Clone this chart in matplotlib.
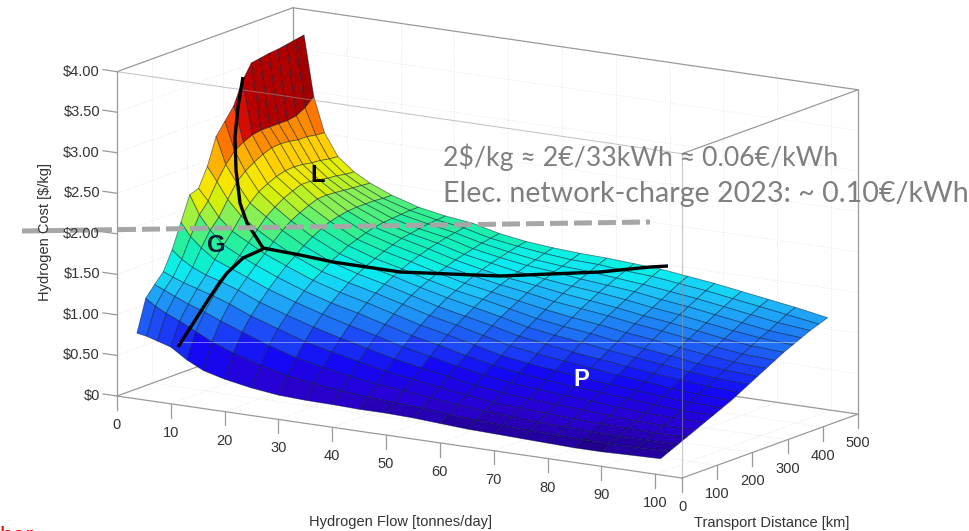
"""Hydrogen delivery cost surface (flow vs distance) with slide annotations on top."""

import matplotlib
matplotlib.use("Agg")
import matplotlib.pyplot as plt
import numpy as np
from matplotlib.colors import LinearSegmentedColormap, Normalize
from mpl_toolkits.mplot3d import proj3d

FLOW = [3.7, 5.5, 7.5, 10, 13, 16, 20, 25, 30, 35, 40, 45, 50, 55, 60, 65, 70, 75, 80, 85, 90, 95, 101]
DIST = [0, 25, 50, 75, 100, 125, 150, 175, 200, 225, 250, 275, 300, 325, 350, 375, 400, 425, 450, 475]

# one row per flow, one value per distance, $/kg
COST = [
    [.81, 1.20, 1.33, 1.45, 1.68, 1.98, 2.28, 2.32, 2.55, 2.88, 3.03, 3.18, 3.45, 3.63, 3.65, 3.67, 3.68, 3.70, 3.72, 3.74],
    [.79, 1.12, 1.28, 1.40, 1.58, 1.82, 2.05, 2.18, 2.38, 2.55, 2.68, 2.75, 2.80, 2.82, 2.82, 2.82, 2.82, 2.84, 2.90, 3.00],
    [.75, 1.05, 1.22, 1.35, 1.50, 1.70, 1.88, 2.00, 2.18, 2.35, 2.45, 2.52, 2.58, 2.62, 2.63, 2.62, 2.60, 2.60, 2.58, 2.57],
    [.70, .98, 1.15, 1.30, 1.43, 1.58, 1.72, 1.85, 2.00, 2.12, 2.22, 2.28, 2.33, 2.36, 2.37, 2.36, 2.34, 2.33, 2.31, 2.30],
    [.57, .88, 1.08, 1.24, 1.37, 1.50, 1.62, 1.74, 1.86, 1.98, 2.06, 2.13, 2.18, 2.22, 2.22, 2.20, 2.18, 2.17, 2.15, 2.14],
    [.47, .78, 1.00, 1.17, 1.30, 1.42, 1.53, 1.63, 1.74, 1.84, 1.92, 1.98, 2.03, 2.07, 2.08, 2.07, 2.06, 2.05, 2.04, 2.03],
    [.40, .68, .90, 1.06, 1.19, 1.31, 1.42, 1.52, 1.60, 1.69, 1.76, 1.82, 1.87, 1.90, 1.92, 1.93, 1.93, 1.93, 1.92, 1.92],
    [.34, .58, .78, .95, 1.08, 1.20, 1.30, 1.39, 1.46, 1.54, 1.60, 1.66, 1.70, 1.74, 1.77, 1.79, 1.80, 1.81, 1.82, 1.82],
    [.30, .50, .68, .84, .98, 1.10, 1.20, 1.29, 1.37, 1.44, 1.50, 1.55, 1.60, 1.64, 1.68, 1.70, 1.72, 1.74, 1.75, 1.76],
    [.285, .45, .61, .76, .89, 1.01, 1.12, 1.21, 1.29, 1.36, 1.42, 1.47, 1.52, 1.56, 1.60, 1.63, 1.66, 1.68, 1.70, 1.72],
    [.28, .41, .55, .69, .81, .93, 1.03, 1.12, 1.20, 1.27, 1.33, 1.38, 1.43, 1.47, 1.51, 1.54, 1.57, 1.60, 1.62, 1.64],
    [.27, .38, .50, .62, .73, .84, .94, 1.03, 1.11, 1.18, 1.25, 1.30, 1.35, 1.40, 1.44, 1.48, 1.51, 1.54, 1.57, 1.59],
    [.27, .36, .47, .57, .67, .77, .87, .96, 1.04, 1.11, 1.18, 1.24, 1.29, 1.34, 1.38, 1.42, 1.46, 1.49, 1.53, 1.56],
    [.26, .34, .43, .52, .61, .70, .79, .88, .96, 1.04, 1.11, 1.17, 1.23, 1.29, 1.34, 1.38, 1.43, 1.46, 1.50, 1.54],
    [.24, .31, .39, .47, .55, .64, .72, .80, .88, .96, 1.03, 1.10, 1.17, 1.23, 1.29, 1.34, 1.39, 1.44, 1.49, 1.53],
    [.22, .29, .36, .43, .51, .59, .67, .75, .83, .91, .98, 1.05, 1.12, 1.19, 1.25, 1.31, 1.36, 1.41, 1.46, 1.51],
    [.21, .27, .34, .41, .48, .56, .63, .71, .79, .86, .94, 1.01, 1.08, 1.15, 1.21, 1.27, 1.33, 1.38, 1.44, 1.49],
    [.20, .26, .32, .39, .46, .53, .60, .67, .75, .82, .89, .96, 1.03, 1.10, 1.16, 1.22, 1.28, 1.34, 1.40, 1.45],
    [.19, .25, .31, .37, .44, .51, .58, .64, .71, .78, .85, .92, .99, 1.06, 1.12, 1.18, 1.24, 1.30, 1.36, 1.41],
    [.18, .24, .30, .36, .42, .48, .55, .61, .68, .74, .81, .88, .94, 1.01, 1.07, 1.13, 1.19, 1.25, 1.31, 1.36],
    [.18, .24, .29, .35, .40, .46, .52, .58, .64, .71, .77, .83, .90, .96, 1.02, 1.08, 1.14, 1.20, 1.26, 1.31],
    [.19, .24, .29, .34, .39, .45, .50, .56, .62, .68, .74, .80, .86, .92, .98, 1.04, 1.09, 1.15, 1.21, 1.26],
    [.20, .25, .30, .35, .40, .45, .50, .55, .60, .66, .72, .78, .84, .90, .96, 1.01, 1.06, 1.11, 1.15, 1.19],
]

FLOW_TICKS = [0, 10, 20, 30, 40, 50, 60, 70, 80, 90, 100]
DIST_TICKS = [0, 100, 200, 300, 400, 500]
COST_TICKS = [0, 0.5, 1, 1.5, 2, 2.5, 3, 3.5, 4]
COST_LABELS = ["$0", "$0.50", "$1.00", "$1.50", "$2.00", "$2.50", "$3.00", "$3.50", "$4.00"]

# hand-drawn slide annotations, in picture pixels
LINE_LG = ([243, 238, 235, 236, 240, 247, 263], [77, 107, 137, 170, 203, 223, 248])
LINE_LP = ([263, 300, 333, 400, 500, 600, 650, 668], [248, 255, 262, 272, 276, 272, 267, 266])
LINE_GP = ([263, 243, 227, 220, 208, 178], [249, 258, 273, 282, 300, 347])
DASH_X = [22, 650]
DASH_Y = [231, 222]

STOPS = [
    (.15, "#22008c"), (.35, "#2a00d0"), (.65, "#1408f5"), (.9, "#1e50f5"), (1.1, "#1e8cf5"),
    (1.3, "#1ec0f8"), (1.45, "#0aeef0"), (1.6, "#10f0c0"), (1.8, "#30f090"), (2.0, "#90f050"),
    (2.2, "#e0f000"), (2.4, "#ffe000"), (2.6, "#ffb000"), (2.8, "#ff7000"), (3.0, "#f01808"),
    (3.15, "#c00000"), (3.4, "#a00000"), (4.0, "#8c0000"),
]
ZMIN, ZMAX = 0.15, 4.0
XMAX, YMAX = 105, 500
W, H = 970, 531
AXC = "#999999"
TXT = "#333333"
SANS = "Liberation Sans"


def to_px(ax, x, y, z):
    xs, ys, _ = proj3d.proj_transform(x, y, z, ax.get_proj())
    return ax.transData.transform((xs, ys))


def fit_box(fig, ax, box):
    # move and scale the 3d box so two floor corners land where they are in the picture
    target0 = np.array([117, H - 396])
    target1 = np.array([858, H - 414])
    fig.canvas.draw()
    p0, p1 = to_px(ax, 0, 0, 0), to_px(ax, XMAX, YMAX, 0)
    ax.set_box_aspect(box, zoom=np.linalg.norm(target1 - target0) / np.linalg.norm(p1 - p0))
    fig.canvas.draw()
    p0 = to_px(ax, 0, 0, 0)
    shift = target0 - p0
    pos = ax.get_position()
    ax.set_position([pos.x0 + shift[0] / W, pos.y0 + shift[1] / H, pos.width, pos.height])
    fig.canvas.draw()


def main():
    fig = plt.figure(figsize=(W / 100, H / 100), dpi=100)
    fig.patch.set_facecolor("white")
    # oversized square axes: mplot3d clips to its bbox and keeps it square
    side = 1500
    ax = fig.add_axes([(W - side) / 2 / W, (H - side) / 2 / H, side / W, side / H],
                      projection="3d", proj_type="ortho", computed_zorder=False)
    box = (668, 329, 333)
    ax.set_box_aspect(box)
    ax.view_init(elev=13.28, azim=-57.7)
    ax.set_xlim(0, XMAX)
    ax.set_ylim(0, YMAX)
    ax.set_zlim(0, 4)
    ax.set_axis_off()
    ax.patch.set_alpha(0)

    # faint dotted grid on floor and back walls
    grid = dict(color="#e6e6e6", lw=0.7, ls=":", zorder=0.5)
    for f in FLOW_TICKS[1:]:
        ax.plot([f, f], [0, YMAX], [0, 0], **grid)
        ax.plot([f, f], [YMAX, YMAX], [0, 4], **grid)
    for d in DIST_TICKS[1:]:
        ax.plot([0, XMAX], [d, d], [0, 0], **grid)
        ax.plot([0, 0], [d, d], [0, 4], **grid)
    for z in COST_TICKS[1:-1]:
        ax.plot([0, XMAX], [YMAX, YMAX], [z, z], **grid)
        ax.plot([0, 0], [0, YMAX], [z, z], **grid)

    # box edges behind the surface
    back = dict(color=AXC, lw=0.9, zorder=1)
    ax.plot([0, XMAX], [YMAX, YMAX], [0, 0], **back)
    ax.plot([0, 0], [0, YMAX], [0, 0], **back)
    ax.plot([0, 0], [YMAX, YMAX], [0, 4], **back)
    ax.plot([0, XMAX], [YMAX, YMAX], [4, 4], **back)
    ax.plot([0, 0], [0, YMAX], [4, 4], **back)
    ax.plot([XMAX, XMAX], [YMAX, YMAX], [0, 4], **back)
    ax.plot([XMAX, XMAX], [0, YMAX], [4, 4], **back)
    ax.plot([XMAX, XMAX], [0, YMAX], [0, 0], **back)
    ax.plot([0, XMAX], [0, 0], [0, 0], **back)
    ax.plot([0, 0], [0, 0], [0, 4], **back)

    cmap = LinearSegmentedColormap.from_list(
        "h2", [((z - ZMIN) / (ZMAX - ZMIN), c) for z, c in STOPS], N=64)
    X, Y = np.meshgrid(FLOW, DIST, indexing="ij")
    ax.plot_surface(X, Y, np.array(COST), cmap=cmap, norm=Normalize(ZMIN, ZMAX),
                    rstride=1, cstride=1, shade=False, edgecolor=(0.0, 0.08, 0.18, 0.5),
                    linewidth=0.6, antialiased=True, zorder=2)

    # box edges that pass in front of the surface
    front = dict(color=AXC, lw=0.8, alpha=0.55, zorder=3)
    ax.plot([0, XMAX], [0, 0], [4, 4], **front)
    ax.plot([XMAX, XMAX], [0, 0], [0, 4], **front)

    tick = dict(color=AXC, lw=0.9, zorder=3)
    for f in FLOW_TICKS:
        ax.plot([f, f], [0, 0], [0, -0.17], **tick)
    for d in DIST_TICKS:
        ax.plot([XMAX, XMAX], [d, d], [0, -0.17], **tick)
    for z in COST_TICKS:
        ax.plot([-2.6, 0], [0, 0], [z, z], **tick)

    fit_box(fig, ax, box)

    # slide annotations on a pixel overlay
    over = fig.add_axes([0, 0, 1, 1], facecolor="none", zorder=5)
    over.set_xlim(0, W)
    over.set_ylim(H, 0)
    over.axis("off")

    # tick labels go through the 3d projection, then sit on the overlay
    label = dict(family=SANS, fontsize=10.5, color=TXT, va="center")
    for f in FLOW_TICKS:
        px = to_px(ax, f, 0, 0)
        over.text(px[0], H - px[1] + 29, str(f), ha="center", **label)
    for d in DIST_TICKS:
        px = to_px(ax, XMAX, d, 0)
        over.text(px[0], H - px[1] + 29, str(d), ha="center", **label)
    for z, s in zip(COST_TICKS, COST_LABELS):
        px = to_px(ax, 0, 0, z)
        over.text(px[0] - 17, H - px[1], s, ha="right", **label)

    # thin light rule that crosses the slide
    over.plot([178, 805], [342, 342], color="white", lw=0.6, alpha=0.5)

    for xs, ys in (LINE_LG, LINE_LP, LINE_GP):
        over.plot(xs, ys, color="black", lw=2.4, solid_capstyle="butt", solid_joinstyle="round")
    over.plot(DASH_X, DASH_Y, color="#a6a6a6", lw=3.6, dashes=(3.6, 1.2), dash_capstyle="butt")

    over.text(318, 176, "L", family=SANS, fontsize=17, fontweight="bold", color="black", ha="center", va="center")
    over.text(216, 245, "G", family=SANS, fontsize=17, fontweight="bold", color="#061a33", ha="center", va="center")
    over.text(581, 380, "P", family=SANS, fontsize=17, fontweight="bold", color="white", ha="center", va="center")

    over.text(443, 157, "2$/kg ≈ 2€/33kWh ≈ 0.06€/kWh", family="Lato", fontsize=19.2,
              color="#7f7f7f", ha="left", va="center")
    over.text(443, 194, "Elec. network-charge 2023: ~ 0.10€/kWh", family="Lato", fontsize=20.6,
              color="#7f7f7f", ha="left", va="center")

    over.text(401, 522, "Hydrogen Flow [tonnes/day]", family=SANS, fontsize=10.5, color=TXT, ha="center", va="center")
    over.text(772, 523, "Transport Distance [km]", family=SANS, fontsize=10.5, color=TXT, ha="center", va="center")
    over.text(45, 232, "Hydrogen Cost [$/kg]", family=SANS, fontsize=10.5, color=TXT, rotation=90, ha="center", va="center")
    over.text(-1, 543, "her", family=SANS, fontsize=17, color="red", ha="left", va="baseline")

    fig.savefig("out.png", dpi=100, facecolor="white")


if __name__ == "__main__":
    main()
